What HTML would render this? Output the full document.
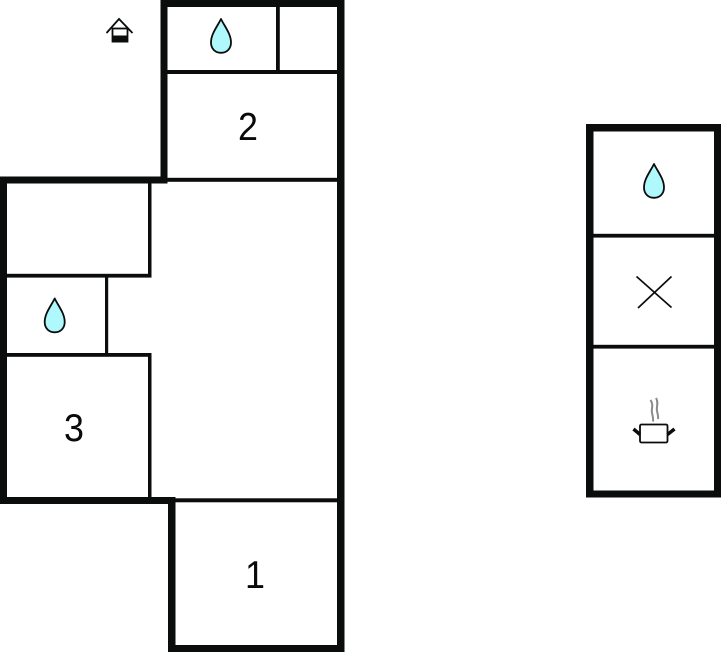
<!DOCTYPE html>
<html>
<head>
<meta charset="utf-8">
<style>
html,body{margin:0;padding:0;background:#fff;width:721px;height:652px;overflow:hidden}
svg{display:block}
text{font-family:"Liberation Sans",sans-serif;font-size:39px;fill:#0a0a0a;text-anchor:middle}
</style>
</head>
<body>
<svg width="721" height="652" viewBox="0 0 721 652" xmlns="http://www.w3.org/2000/svg">
<rect width="721" height="652" fill="#fff"/>
<g fill="#0a0d0c">
  <!-- thick walls -->
  <rect x="160.500" y="0" width="184" height="7"/>
  <rect x="160.500" y="0" width="7" height="183.500"/>
  <rect x="337" y="0" width="7.500" height="652"/>
  <rect x="0" y="176.500" width="167.500" height="7"/>
  <rect x="0" y="176.500" width="7" height="327.500"/>
  <rect x="0" y="497" width="175.500" height="7"/>
  <rect x="168" y="497" width="7.500" height="155"/>
  <rect x="168" y="645" width="176.500" height="7"/>
  <!-- thin walls -->
  <rect x="167" y="70" width="171" height="4"/>
  <rect x="276" y="6" width="3.800" height="65"/>
  <rect x="167" y="177.800" width="171" height="4"/>
  <rect x="148" y="183" width="3.500" height="94"/>
  <rect x="6" y="273.800" width="145.500" height="3.800"/>
  <rect x="105" y="277" width="3.200" height="77"/>
  <rect x="6" y="353" width="145.500" height="3.800"/>
  <rect x="148" y="356" width="3.500" height="141"/>
  <rect x="175" y="498.300" width="163" height="4"/>
  <!-- right panel -->
  <rect x="586" y="124" width="135" height="7.500"/>
  <rect x="586" y="124" width="7.500" height="373.500"/>
  <rect x="714" y="124" width="7" height="373.500"/>
  <rect x="586" y="490.500" width="135" height="7"/>
  <rect x="593" y="233.800" width="122" height="3.800"/>
  <rect x="593" y="344.800" width="122" height="3.800"/>
</g>
<!-- drops -->
<g fill="#aff8fb" stroke="#0a0d0c" stroke-width="1.800" stroke-linejoin="round">
  <path d="M221 19 C217 27 211 34 211 42.500 C211 49 215.500 52.800 221 52.800 C226.500 52.800 231 49 231 42.500 C231 34 225 27 221 19 Z"/>
  <path d="M54.700 298.500 C50.700 306.500 44.700 313.500 44.700 322 C44.700 328.500 49.200 332.300 54.700 332.300 C60.200 332.300 64.700 328.500 64.700 322 C64.700 313.500 58.700 306.500 54.700 298.500 Z"/>
  <path d="M654 164 C650 172 644 179 644 187.500 C644 194 648.500 197.800 654 197.800 C659.500 197.800 664 194 664 187.500 C664 179 658 172 654 164 Z"/>
</g>
<!-- X -->
<g stroke="#0a0d0c" stroke-width="1.700" fill="none">
  <line x1="636.500" y1="276.500" x2="671.500" y2="307.500"/>
  <line x1="671.500" y1="276.500" x2="638" y2="308"/>
</g>
<!-- pot -->
<rect x="640" y="424.500" width="27.500" height="18" rx="1.500" fill="#fff" stroke="#0a0d0c" stroke-width="1.800"/>
<g stroke="#0a0d0c" stroke-width="3.500" fill="none">
  <line x1="633.500" y1="429" x2="640" y2="434.500"/>
  <line x1="674.500" y1="429" x2="667.500" y2="434.500"/>
</g>
<g stroke="#8a8a8a" stroke-width="2" fill="none">
  <path d="M650.500 400 C654 405 651 409 652 413 C653 417 653.500 419 653 421.500"/>
  <path d="M656 398 C659 403 656 407 657 411 C658 415 658.500 417 658 419"/>
</g>
<!-- house -->
<g fill="none" stroke="#0a0d0c" stroke-width="1.800">
  <polyline points="106.500,33 119,19 132.500,33"/>
  <rect x="112.500" y="28.500" width="15" height="13"/>
</g>
<rect x="112" y="35.500" width="16" height="7" fill="#0a0d0c"/>
<!-- labels -->
<text transform="translate(248 140) scale(.92 1)">2</text>
<text transform="translate(74 441) scale(.92 1)">3</text>
<text transform="translate(255 588) scale(.92 1)">1</text>
</svg>
</body>
</html>
